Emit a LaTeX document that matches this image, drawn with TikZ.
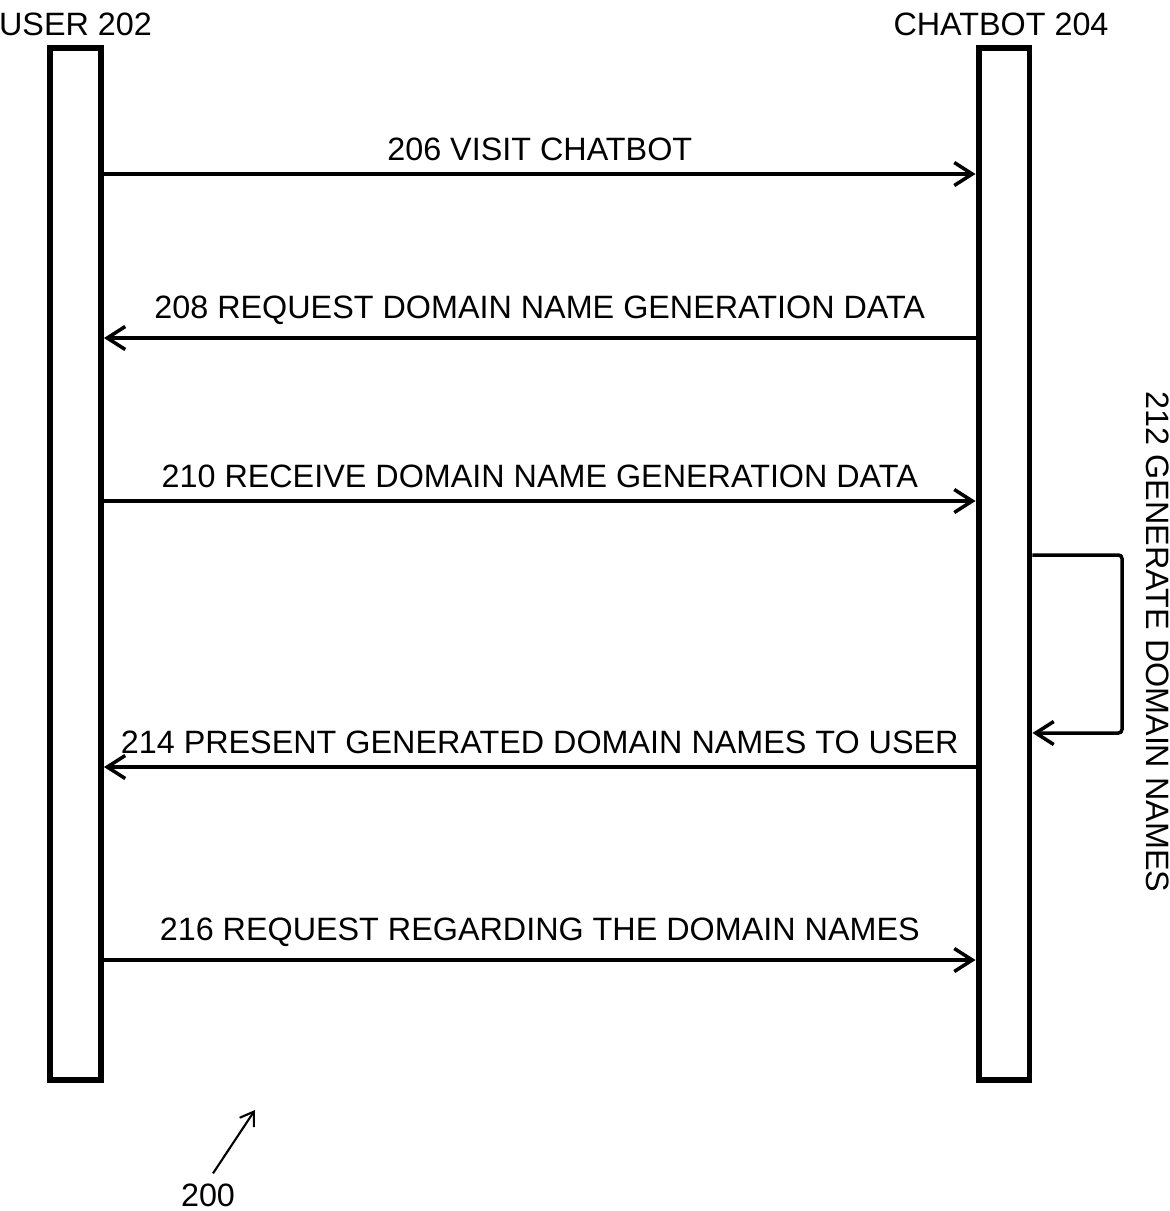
\documentclass[tikz,border=0pt]{standalone}
\usepackage{fontspec}
\setmainfont{Liberation Sans}
\usepackage{tikz}
\usetikzlibrary{arrows.meta,positioning}

\begin{document}
\begin{tikzpicture}[
        x=0.02cm, y=-0.02cm,
        node distance=0.07cm,
        lifeline/.style={rectangle, draw, line width=3.4pt, minimum width=1.02cm, minimum height=20.64cm, inner sep=0pt},
        msg/.style={-{Straight Barb[length=0.36cm, width=0.46cm]}, line width=2pt},
        ptr/.style={-{Straight Barb[length=0.26cm, width=0.34cm]}, line width=1.2pt},
        txt/.style={font=\fontsize{18.4}{20}\selectfont},
        msglabel/.style={txt, above=0.11cm}
    ]
        \useasboundingbox (0,0) rectangle (1170,1211);

        % Lifelines
        \node[lifeline] (user) at (75.5,564) {};
        \node[lifeline] (chatbot) at (1004,564) {};
        \node[txt, above=of user] (userlabel) {USER 202};
        \node[txt, above=of chatbot, xshift=-0.06cm] (chatbotlabel) {CHATBOT 204};

        % Messages
        \draw[msg] (user.east |- 0,174) -- node[msglabel] {206 VISIT CHATBOT} (chatbot.west |- 0,174);
        \draw[msg] (chatbot.west |- 0,338) -- node[msglabel] {208 REQUEST DOMAIN NAME GENERATION DATA} (user.east |- 0,338);
        \draw[msg] (user.east |- 0,501) -- node[msglabel] {210 RECEIVE DOMAIN NAME GENERATION DATA} (chatbot.west |- 0,501);
        \draw[msg] (chatbot.west |- 0,767) -- node[msglabel] {214 PRESENT GENERATED DOMAIN NAMES TO USER} (user.east |- 0,767);
        \draw[msg] (user.east |- 0,960) -- node[msglabel] {216 REQUEST REGARDING THE DOMAIN NAMES} (chatbot.west |- 0,960);

        % Self loop
        \draw[msg, rounded corners=2pt] (chatbot.east |- 0,555) -- (1122,555) |- (chatbot.east |- 0,733);
        \node[txt, rotate=-90] (generate) at (1158,642) {212 GENERATE DOMAIN NAMES};

        % Figure number
        \node[txt] (fig) at (208,1195) {200};
        \coordinate (figtip) at (255,1110);
        \draw[ptr] ([xshift=0.1cm, yshift=0.08cm]fig.north) -- (figtip);
    \end{tikzpicture}
\end{document}
